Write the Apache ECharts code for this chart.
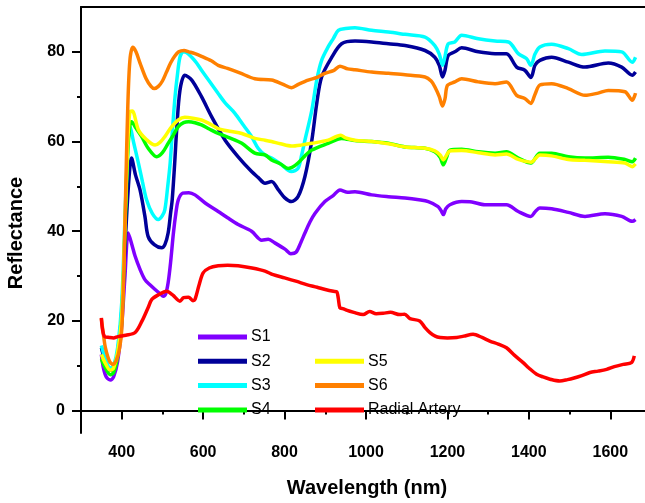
<!DOCTYPE html>
<html><head><meta charset="utf-8">
<script src="https://cdn.jsdelivr.net/npm/echarts@6/dist/echarts.min.js"></script>
<style>html,body{margin:0;padding:0;background:#fff;overflow:hidden}#c{width:645px;height:503px}</style>
</head><body><div id="c"></div>
<script>
// [wavelength nm, reflectance]
const S1 = [[350,12.5],[355,9.5],[362,7.5],[372,6.8],[380,7.5],[390,11],[400,19],[408,30],[416,39.6],[425,37],[433,34.4],[445,31.5],[457,29.2],[470,28],[482,27],[495,26],[502,25.5],[508,26],[514,28.5],[520,33],[527,39.6],[533,44],[539,47],[550,48.5],[565,48.6],[580,48.1],[605,46.3],[637,44.4],[660,43],[686,41.5],[719,40],[744,38],[760,38.2],[776,37.4],[801,36],[815,35],[828,35.3],[840,37.5],[850,39.6],[862,42],[875,44],[899,46.6],[920,48],[936,49.2],[955,48.7],[973,48.8],[1014,48.1],[1055,47.7],[1096,47.4],[1130,47],[1153,46.6],[1177,45.5],[1185,44.5],[1190,43.7],[1196,45],[1206,45.9],[1235,46.6],[1260,46.5],[1292,45.9],[1345,45.9],[1374,44.4],[1405,43.3],[1415,44.3],[1427,45.2],[1456,45],[1497,44.2],[1538,43.3],[1587,43.9],[1628,43.3],[1654,42.2],[1662,42.6]];
const S2 = [[350,14],[360,11],[372,9],[380,9.3],[390,13],[400,22],[410,40],[418,52],[424,56.3],[434,52.5],[445,49.2],[457,43.3],[465,38.8],[480,37],[498,36.3],[506,37],[514,39.6],[520,44],[524,47],[530,55],[535,62.6],[543,71.4],[555,74.8],[572,73.7],[596,70],[621,65.5],[654,60.3],[686,56.6],[719,53.3],[735,52],[752,50.7],[768,51.1],[785,49.2],[800,47.5],[817,46.6],[833,47.7],[850,52.2],[867,60.3],[879,68.5],[891,74.4],[916,78.8],[940,81.8],[973,82.4],[1014,82.2],[1055,81.8],[1096,81.4],[1145,80.3],[1169,78.8],[1180,77],[1188,74.4],[1194,75.9],[1202,79.2],[1218,80],[1235,80.9],[1276,80],[1317,79.6],[1345,79.6],[1370,76.6],[1390,75.9],[1405,74.3],[1415,77],[1427,78.1],[1456,78.8],[1497,77.7],[1538,76.6],[1595,77.5],[1628,76.6],[1654,74.8],[1662,75.5]];
const S3 = [[350,14.5],[360,11.5],[372,9.5],[380,10],[390,14],[400,24],[410,48],[416,60],[420,63.3],[430,59.5],[441,55.2],[451,51],[461,47],[475,44],[490,42.6],[500,43.5],[506,44.8],[513,50],[519,55.2],[525,63],[531,70],[537,75],[543,78.8],[551,80],[560,79.8],[572,78.8],[584,77.5],[596,75.9],[615,73.5],[637,70.7],[655,68.5],[678,66.3],[700,63.5],[719,61.1],[735,58.5],[752,57],[768,56.3],[790,55],[810,53.5],[817,53.3],[833,54],[842,57],[850,60.3],[867,67],[879,73.7],[891,78.1],[907,81.1],[920,83],[932,84.8],[950,85.2],[973,85.4],[1014,84.8],[1055,84.4],[1096,83.9],[1145,83.3],[1169,81.4],[1180,79.5],[1188,77],[1194,79],[1202,81.8],[1218,82.2],[1235,83.7],[1276,82.9],[1317,82.4],[1350,82.2],[1374,79.6],[1394,78.5],[1405,77],[1415,79.5],[1427,81.1],[1456,81.7],[1497,80.7],[1530,79.4],[1587,80.2],[1628,80],[1654,77.7],[1662,78.8]];
const S4 = [[350,11.5],[360,9.5],[372,8],[380,8.5],[390,12],[400,20],[408,40],[415,58],[420,63.5],[424,64.4],[435,63],[449,61.1],[465,58.5],[486,56.6],[500,57.5],[514,59.6],[527,61.5],[539,63.3],[552,64.2],[564,64.4],[580,64.2],[596,63.7],[615,62.8],[637,61.8],[665,60.8],[695,59.6],[727,57.4],[752,57],[768,55.9],[790,55],[809,54],[820,54.3],[833,55.2],[850,56.8],[867,58.1],[907,59.6],[940,60.7],[973,60.2],[1014,60],[1055,59.6],[1096,58.8],[1145,58.5],[1169,57.7],[1182,56.5],[1190,54.8],[1198,56.5],[1206,58.1],[1235,58.3],[1276,57.7],[1317,57.4],[1345,57.7],[1374,56.3],[1405,55.2],[1427,57.4],[1456,57.4],[1497,56.6],[1538,56.3],[1595,56.5],[1636,56],[1654,55.5],[1662,56.3]];
const S5 = [[350,12.5],[360,10.5],[372,9],[380,9.5],[390,13],[400,21],[408,42],[415,60],[420,66.6],[426,66.8],[441,62.6],[460,60.5],[482,59.2],[494,59.8],[506,61.1],[520,63],[539,64.8],[555,65.4],[575,65.2],[596,64.8],[615,64],[637,62.9],[665,62.3],[695,61.8],[727,60.7],[752,60.3],[768,60],[790,59.5],[817,59],[840,59.2],[867,59.6],[907,60.3],[938,61.4],[950,60.8],[973,60.3],[1014,60],[1055,59.5],[1096,58.8],[1145,58.5],[1169,57.9],[1182,57],[1190,55.9],[1198,57],[1206,57.9],[1235,58],[1276,57.5],[1317,57],[1345,57.2],[1374,56],[1405,55.4],[1427,57],[1456,56.8],[1497,56],[1538,55.8],[1595,55.5],[1636,55.2],[1654,54.4],[1662,55]];
const S6 = [[350,20.5],[355,17],[360,14],[370,11],[378,10.3],[388,11.5],[395,14],[400,18],[405,30],[410,50],[415,68],[420,78],[427,81],[435,80],[445,77.5],[460,74],[472,72.3],[480,71.8],[490,72.3],[500,73.5],[510,75.5],[520,77.5],[530,79],[540,80],[553,80.3],[565,80],[580,79.6],[596,79],[620,78],[637,77],[660,76.3],[690,75.3],[727,74],[768,73.7],[795,72.8],[817,72],[835,72.8],[858,73.7],[880,74.3],[899,75.2],[920,75.8],[936,76.8],[955,76.2],[973,76],[1014,75.5],[1055,75.2],[1096,74.9],[1145,74.4],[1160,73.5],[1169,72.2],[1180,70],[1188,67.9],[1194,69.5],[1200,72.5],[1218,73.3],[1235,74],[1276,73.3],[1317,72.9],[1345,73.3],[1370,70.3],[1390,69.6],[1405,68.5],[1415,70.5],[1427,72.6],[1456,72.9],[1497,71.8],[1538,70.3],[1570,70.8],[1595,71.4],[1636,71.1],[1654,69.2],[1662,70.8]];
const RA = [[350,20.7],[353,18],[358,16.5],[370,16.3],[380,16.2],[391,16.5],[410,16.8],[433,17.4],[450,20],[465,23],[474,24.8],[490,25.8],[510,26.6],[525,25.8],[543,24.4],[552,25.2],[564,25.3],[575,24.5],[580,24.8],[590,28],[600,30.7],[615,31.8],[637,32.3],[660,32.4],[686,32.3],[720,31.8],[752,31.1],[772,30.3],[800,29.6],[830,28.8],[854,28.1],[880,27.5],[900,27],[920,26.6],[928,26.5],[932,25],[936,22.9],[945,22.7],[952,22.4],[970,21.9],[993,21.4],[1009,22.1],[1025,21.6],[1042,21.7],[1060,21.9],[1083,21.4],[1095,21.5],[1108,20.5],[1132,20],[1145,18.5],[1157,17.4],[1170,16.6],[1182,16.3],[1200,16.2],[1223,16.3],[1240,16.6],[1263,17],[1285,16.3],[1304,15.5],[1325,14.8],[1345,14],[1365,12.3],[1386,10.7],[1400,9.5],[1419,8.1],[1435,7.5],[1452,7],[1476,6.6],[1495,6.9],[1509,7.2],[1530,7.8],[1550,8.5],[1570,8.8],[1591,9.2],[1610,9.8],[1632,10.3],[1652,10.7],[1659,12.2]];

const seriesNames = ['S1','S2','S3','S4','S5','S6','Radial Artery'];
const seriesData = [S1,S2,S3,S4,S5,S6,RA];
const seriesColors = ['#8000ff','#000099','#00ffff','#00ff00','#ffff00','#ff8000','#ff0000'];
const xMajor = [400,600,800,1000,1200,1400,1600];
const xMinor = [300,500,700,900,1100,1300,1500,1700];
const yMajor = [0,20,40,60,80];
const yMinor = [10,30,50,70];

const FONT = "'Liberation Sans', Arial, sans-serif";
const chart = echarts.init(document.getElementById('c'), null, {renderer:'canvas'});
const axisBase = (min, max) => ({
  type:'value', min, max, splitLine:{show:false}, gridIndex:0
});
chart.setOption({
  animation:false,
  backgroundColor:'#fff',
  grid:{left:81, top:7, width:570, height:426, show:false, containLabel:false, outerBoundsMode:'none'},
  xAxis:[
    Object.assign(axisBase(300,1700), {position:'bottom',
      axisLine:{show:true, lineStyle:{color:'#000', width:2}},
      axisTick:{show:true, customValues:xMajor, length:9, lineStyle:{color:'#000', width:2}},
      axisLabel:{customValues:xMajor, formatter:v=>String(v), color:'#000', fontSize:16, fontWeight:'bold', fontFamily:FONT, margin:12}}),
    Object.assign(axisBase(300,1700), {position:'bottom', offset:0,
      axisLine:{show:false},
      axisTick:{show:true, customValues:xMinor, length:4, lineStyle:{color:'#000', width:2}},
      axisLabel:{show:false}}),
    Object.assign(axisBase(300,1700), {position:'top', offset:0,
      axisLine:{show:true, lineStyle:{color:'#000', width:2}},
      axisTick:{show:false}, axisLabel:{show:false}})
  ],
  yAxis:[
    Object.assign(axisBase(-5,90), {position:'left',
      axisLine:{show:true, lineStyle:{color:'#000', width:2}},
      axisTick:{show:true, customValues:yMajor, length:9, lineStyle:{color:'#000', width:2}},
      axisLabel:{customValues:yMajor, formatter:v=>String(v), color:'#000', fontSize:16, fontWeight:'bold', fontFamily:FONT, margin:16}}),
    Object.assign(axisBase(-5,90), {position:'left', offset:0,
      axisLine:{show:false},
      axisTick:{show:true, customValues:yMinor, length:4, lineStyle:{color:'#000', width:2}},
      axisLabel:{show:false}})
  ],
  legend:[
    {data:['S1','S2','S3','S4'], orient:'vertical', left:198, top:328, padding:0, itemGap:6.3,
     itemWidth:49, itemHeight:5, icon:'rect', textStyle:{fontSize:16, color:'#000', fontFamily:FONT, lineHeight:18, padding:[0,0,0,-1]}},
    {data:['S5','S6','Radial Artery'], orient:'vertical', left:315, top:352.3, padding:0, itemGap:6.3,
     itemWidth:49, itemHeight:5, icon:'rect', textStyle:{fontSize:16, color:'#000', fontFamily:FONT, lineHeight:18, padding:[0,0,0,-1]}}
  ],
  graphic:[
    {type:'text', x:367, y:488, style:{text:'Wavelength (nm)', fontSize:20, fontWeight:'bold', fontFamily:FONT, fill:'#000', align:'center', verticalAlign:'middle'}},
    {type:'text', x:16, y:233, rotation:Math.PI/2, style:{text:'Reflectance', fontSize:20, fontWeight:'bold', fontFamily:FONT, fill:'#000', align:'center', verticalAlign:'middle'}}
  ],
  series: seriesNames.map((n,i)=>({
    name:n, type:'line', xAxisIndex:0, yAxisIndex:0, data:seriesData[i],
    showSymbol:false, symbol:'none', smooth:0.3,
    lineStyle:{width:3.5, color:seriesColors[i]}, itemStyle:{color:seriesColors[i]},
    emphasis:{disabled:true}, z:2+i
  }))
});
</script></body></html>
